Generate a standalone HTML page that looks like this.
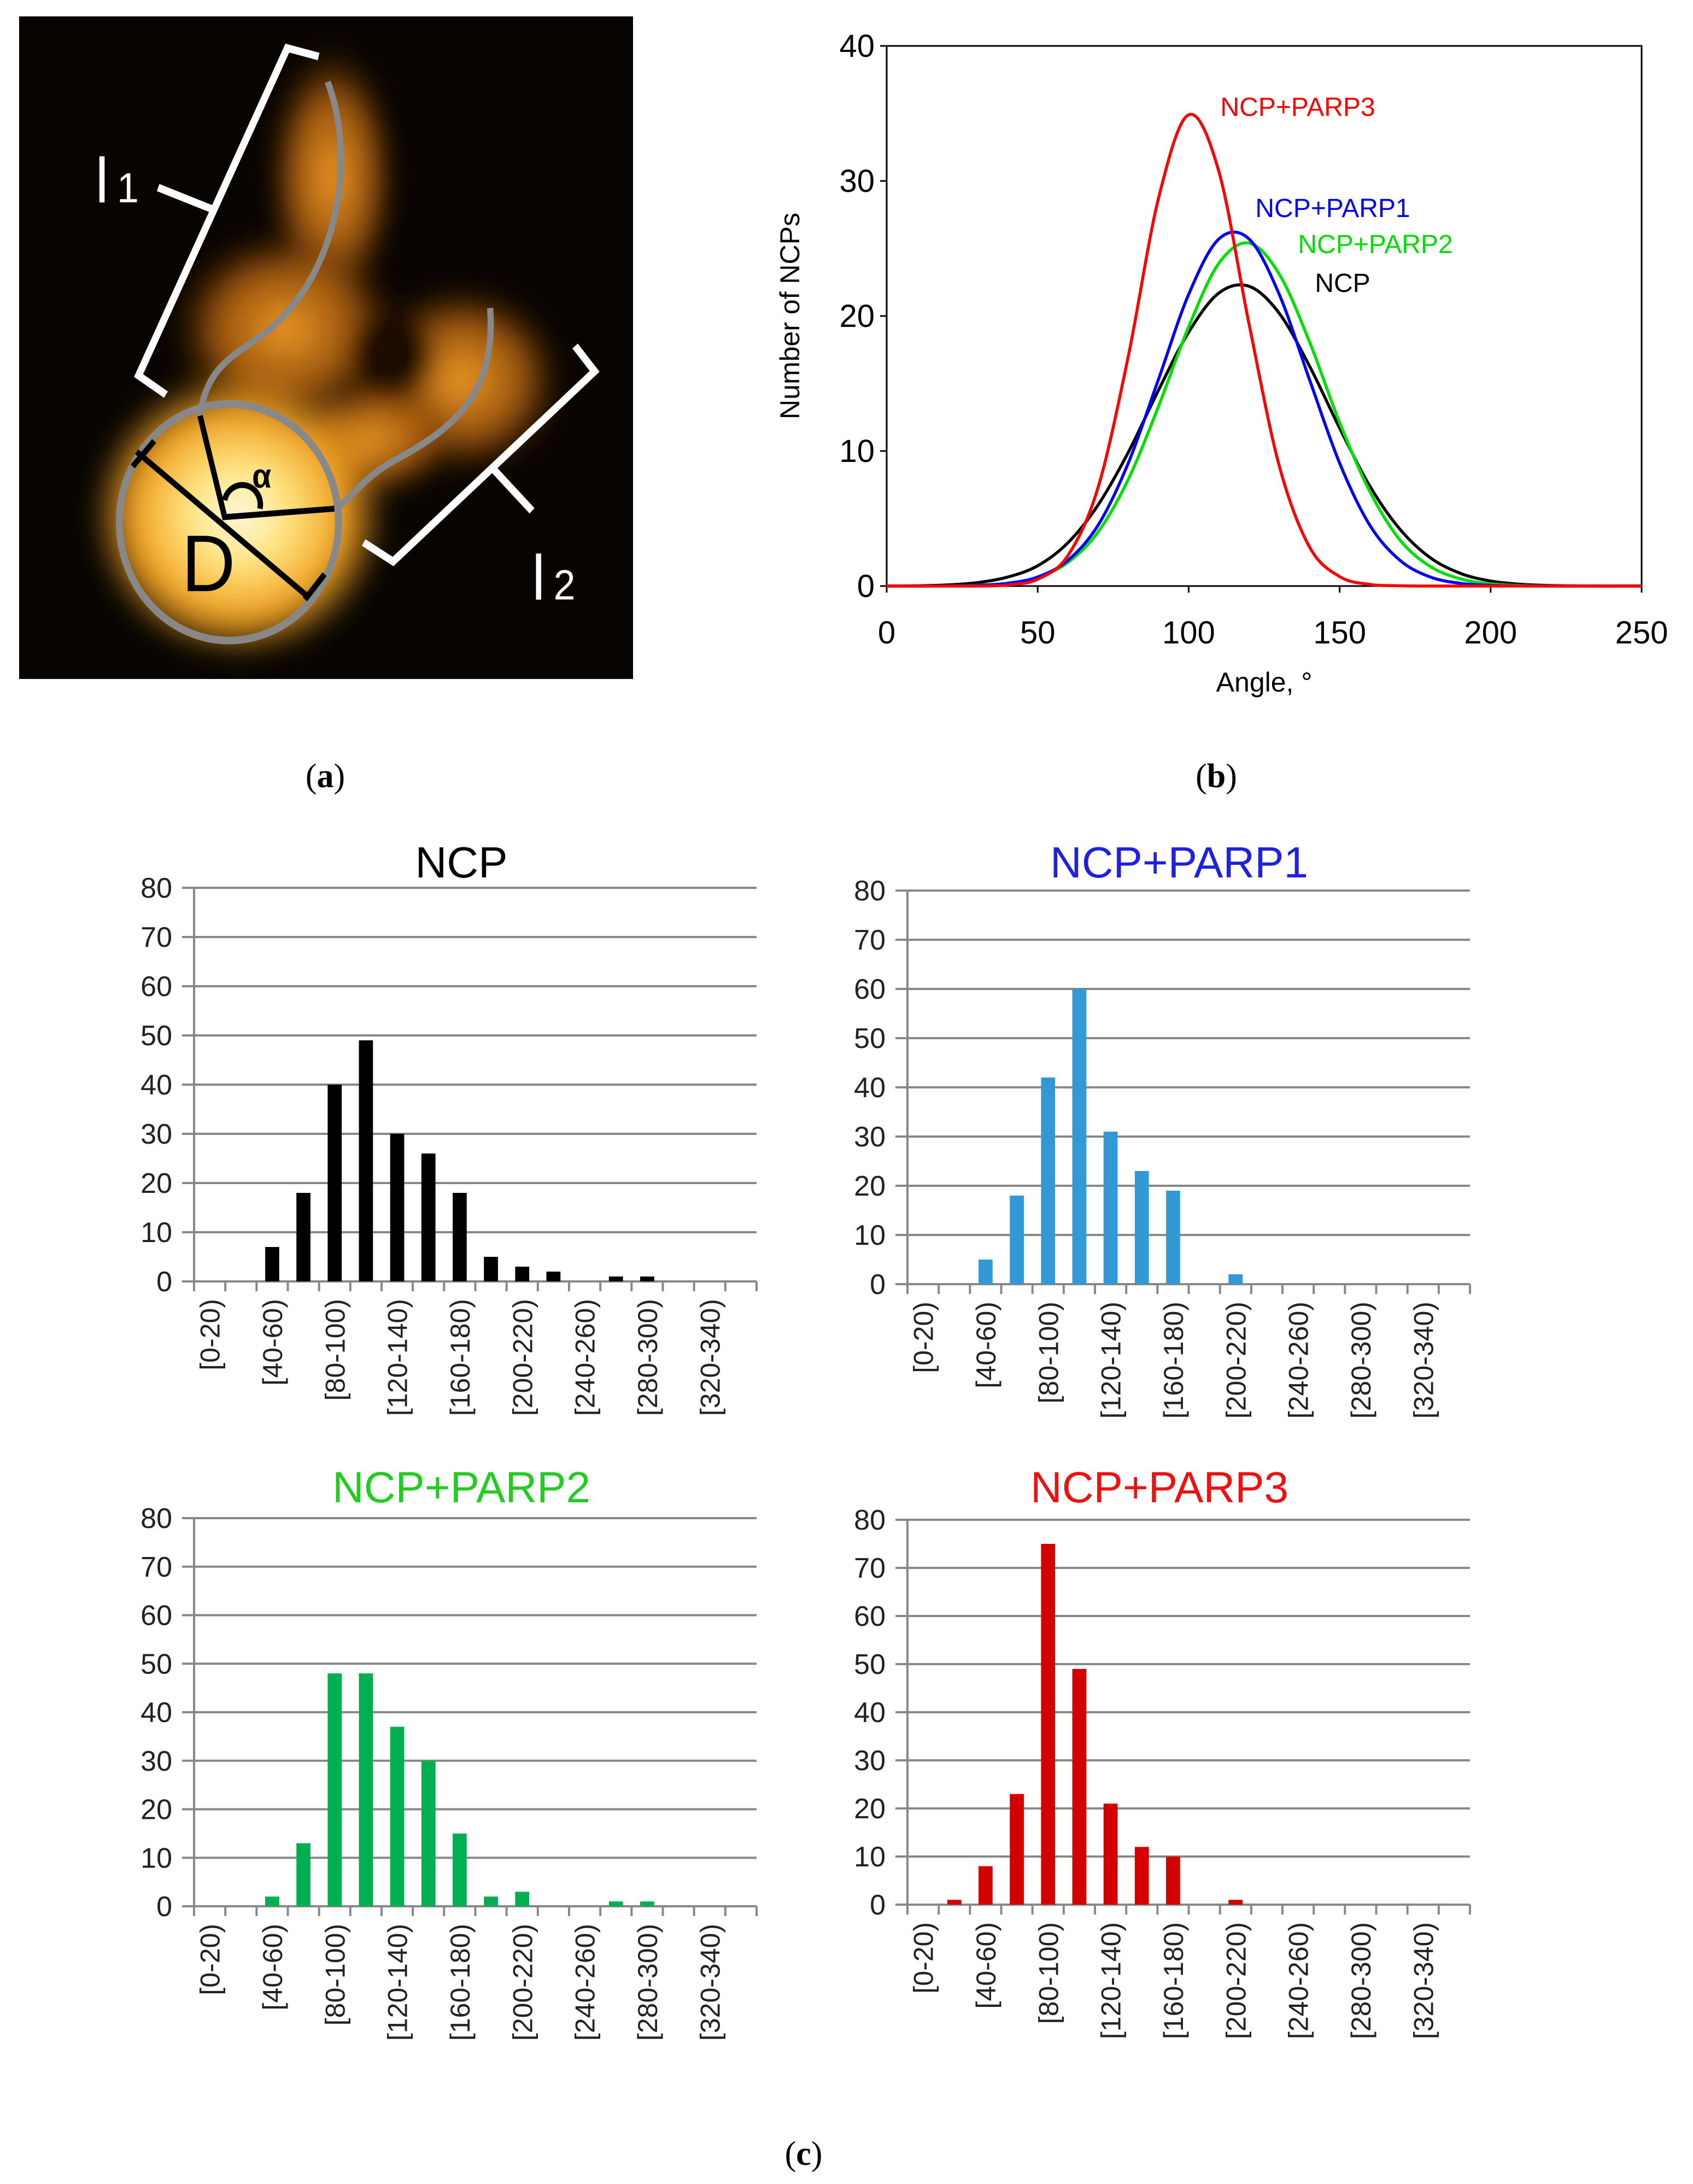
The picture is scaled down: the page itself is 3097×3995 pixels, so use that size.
<!DOCTYPE html>
<html><head><meta charset="utf-8"><style>
html,body{margin:0;padding:0;background:#fff}
svg{display:block}
text{font-family:"Liberation Sans",sans-serif}
</style></head><body>
<svg id="root" xmlns="http://www.w3.org/2000/svg" width="3097" height="3995" viewBox="0 0 3097 3995">
<rect width="3097" height="3995" fill="#fff"/>
<!-- Panel a -->
<svg x="35" y="30" width="1123" height="1212" viewBox="0 0 1568 1568" preserveAspectRatio="none">
<defs>
<radialGradient id="core" cx="0.5" cy="0.5" r="0.5"><stop offset="0" stop-color="#fffbe8"/><stop offset="0.35" stop-color="#ffe27a"/><stop offset="0.7" stop-color="#f0a020"/><stop offset="1" stop-color="#f0a020" stop-opacity="0"/></radialGradient>
<radialGradient id="arm" cx="0.5" cy="0.5" r="0.5"><stop offset="0" stop-color="#f09a25"/><stop offset="0.6" stop-color="#b0600f" stop-opacity="0.85"/><stop offset="1" stop-color="#3a1a00" stop-opacity="0"/></radialGradient>
<filter id="blur"><feGaussianBlur stdDeviation="30"/></filter>
</defs>
<rect width="1568" height="1568" fill="#070402"/>
<g filter="url(#blur)">
<ellipse cx="800" cy="380" rx="170" ry="320" fill="url(#arm)"/>
<ellipse cx="680" cy="740" rx="300" ry="240" fill="url(#arm)"/>
<ellipse cx="1130" cy="860" rx="270" ry="230" fill="url(#arm)"/>
<ellipse cx="900" cy="1000" rx="220" ry="140" fill="url(#arm)"/>
<ellipse cx="950" cy="800" rx="110" ry="110" fill="#1a0a02"/>
<ellipse cx="560" cy="1180" rx="380" ry="340" fill="url(#core)"/>
</g>
<circle cx="536" cy="1197" r="280" fill="none" stroke="#888" stroke-width="18"/>
<path d="M788 155 C860 330 820 600 640 740 C560 800 480 820 462 945" fill="none" stroke="#888" stroke-width="16"/>
<path d="M1203 690 C1220 900 1100 980 960 1050 C880 1090 850 1140 815 1160" fill="none" stroke="#888" stroke-width="16"/>
<path d="M300 1030 L740 1375 M290 1065 L345 1005 M730 1380 L780 1320 M462 945 L525 1185 L805 1165 M525 1145 A40 40 0 0 1 615 1165" fill="none" stroke="#000" stroke-width="14"/>
<text x="595" y="1115" font-size="80" font-weight="bold" fill="#000">α</text>
<text x="415" y="1360" font-size="190" fill="#000">D</text>
<path d="M765 95 L685 75 L305 850 L375 895 M490 455 L355 405" fill="none" stroke="#fff" stroke-width="18"/>
<path d="M1420 780 L1470 840 L955 1290 L880 1245 M1210 1070 L1310 1170" fill="none" stroke="#fff" stroke-width="18"/>
<text x="195" y="440" font-size="150" fill="#fff">l</text><text x="250" y="440" font-size="100" fill="#fff">1</text>
<text x="1310" y="1380" font-size="150" fill="#fff">l</text><text x="1365" y="1380" font-size="100" fill="#fff">2</text>
</svg>
<text x="595" y="1440" font-size="62" text-anchor="middle" style="font-family:'Liberation Serif',serif">(<tspan font-weight="bold">a</tspan>)</text>
<text x="2225" y="1440" font-size="62" text-anchor="middle" style="font-family:'Liberation Serif',serif">(<tspan font-weight="bold">b</tspan>)</text>
<text x="1470" y="3960" font-size="62" text-anchor="middle" style="font-family:'Liberation Serif',serif">(<tspan font-weight="bold">c</tspan>)</text>
<g id="lineChart"></g>
<g id="hists"></g>
</svg>
<script>
const NS="http://www.w3.org/2000/svg";
// ---- Panel b data ----
const angleX=[0,10,20,30,40,50,60,70,80,90,100,110,120,130,140,150,160,170,180,190,200,210,220,230,240,250];
const ncpCurve=[0,0.02,0.08,0.25,0.66,1.5,3.2,6.0,9.9,14.5,18.8,21.7,22.2,20.2,16.3,11.7,7.4,4.2,2.1,0.94,0.37,0.13,0.04,0.01,0,0];
const parp1Curve=[0,0,0.01,0.05,0.2,0.67,1.9,4.5,9.1,15.3,21.6,25.7,25.7,21.6,15.3,9.1,4.5,1.9,0.67,0.2,0.05,0.01,0,0,0,0];
const parp2Curve=[0,0,0.01,0.06,0.21,0.65,1.75,4.0,7.9,13.3,19.2,23.9,25.4,23.1,18.1,12.1,7.0,3.4,1.45,0.53,0.16,0.04,0.01,0,0,0];
const parp3Curve=[0,0,0,0,0.08,0.5,2.25,7.3,17.0,28.7,34.9,30.7,19.4,8.9,2.9,0.7,0.12,0.02,0,0,0,0,0,0,0,0];
const xTicksB=[0,50,100,150,200,250];
const yTicksB=[0,10,20,30,40];
// ---- Panel c data ----
const binLabels=["[0-20)","[20-40)","[40-60)","[60-80)","[80-100)","[100-120)","[120-140)","[140-160)","[160-180)","[180-200)","[200-220)","[220-240)","[240-260)","[260-280)","[280-300)","[300-320)","[320-340)","[340-360)"];
const ncpCounts=[0,0,7,18,40,49,30,26,18,5,3,2,0,1,1,0,0,0];
const parp1Counts=[0,0,5,18,42,60,31,23,19,0,2,0,0,0,0,0,0,0];
const parp2Counts=[0,0,2,13,48,48,37,30,15,2,3,0,0,1,1,0,0,0];
const parp3Counts=[0,1,8,23,75,49,21,12,10,0,1,0,0,0,0,0,0,0];
const yTicksC=[0,10,20,30,40,50,60,70,80];

function mk(tag,attrs,parent){const e=document.createElementNS(NS,tag);for(const k in attrs)e.setAttribute(k,attrs[k]);parent.appendChild(e);return e;}

// Panel b
(function(){
  const g=document.getElementById('lineChart');
  const L=1622,R=3003,T=84,B=1072;
  const sx=v=>L+(v-0)/(250-0)*(R-L);
  const sy=v=>B-(v-0)/(40-0)*(B-T);
  const frame=mk('rect',{x:L,y:T,width:R-L,height:B-T,fill:'none',stroke:'#000','stroke-width':3},g);
  
  
  yTicksB.forEach(v=>{
    const t=mk('text',{x:L-22,y:sy(v)+20,'font-size':58,'text-anchor':'end',fill:'#000'},g);t.textContent=v;
    
    
    mk('line',{x1:L-12,x2:L,y1:sy(v),y2:sy(v),stroke:'#000','stroke-width':3},g);
  });
  xTicksB.forEach(v=>{
    const t=mk('text',{x:sx(v),y:B+105,'font-size':58,'text-anchor':'middle',fill:'#000'},g);t.textContent=v;
    
    
    mk('line',{x1:sx(v),x2:sx(v),y1:B,y2:B+12,stroke:'#000','stroke-width':3},g);
  });
  const xt=mk('text',{x:(L+R)/2,y:1265,'font-size':50,'text-anchor':'middle',fill:'#000'},g);xt.textContent='Angle, °';
  
  
  const yt=mk('text',{x:0,y:0,'font-size':50,'text-anchor':'middle',fill:'#000',transform:`translate(1462,578) rotate(-90)`},g);yt.textContent='Number of NCPs';
  
  
  function spline(ys){
    const p=angleX.map((x,i)=>[sx(x),sy(ys[i])]);
    let d=`M${p[0][0]},${p[0][1]}`;
    for(let i=0;i<p.length-1;i++){
      const p0=p[Math.max(0,i-1)],p1=p[i],p2=p[i+1],p3=p[Math.min(p.length-1,i+2)];
      const c1=[p1[0]+(p2[0]-p0[0])/6,p1[1]+(p2[1]-p0[1])/6],c2=[p2[0]-(p3[0]-p1[0])/6,p2[1]-(p3[1]-p1[1])/6];
      d+=` C${c1[0]},${c1[1]} ${c2[0]},${c2[1]} ${p2[0]},${p2[1]}`;
    }
    return d;
  }
  const series=[[ncpCurve,'#000','ncp-curve'],[parp2Curve,'#00e000','parp2-curve'],[parp1Curve,'#0000ff','parp1-curve'],[parp3Curve,'#ff0000','parp3-curve']];
  series.forEach(s=>{
    const p=mk('path',{d:spline(s[0]),fill:'none',stroke:s[1],'stroke-width':5.5},g);
    
    
  });
  const labs=[['NCP+PARP3','#ff0000',2374,212,'parp3-label'],['NCP+PARP1','#0000ff',2438,397,'parp1-label'],['NCP+PARP2','#00dd00',2516,463,'parp2-label'],['NCP','#000',2456,534,'ncp-label']];
  labs.forEach(l=>{
    const t=mk('text',{x:l[2],y:l[3],'font-size':48,'text-anchor':'middle',fill:l[1]},g);t.textContent=l[0];
    
    
  });
})();

// Panel c
function hist(cfg){
  const root=document.getElementById('hists');
  const g=mk('g',{},root);
  
  
  const {L,R,T,B}=cfg;
  const n=binLabels.length,bw=(R-L)/n;
  const sy=v=>B-v/80*(B-T);
  const cx=i=>L+(i+0.5)*bw;
  yTicksC.forEach(v=>{
    const ln=mk('line',{x1:L-22,x2:R,y1:sy(v),y2:sy(v),stroke:'#888','stroke-width':4},g);
    
    
    const t=mk('text',{x:L-40,y:sy(v)+18,'font-size':52,'text-anchor':'end',fill:'#222'},g);t.textContent=v;
    
    
  });
  mk('line',{x1:L,x2:L,y1:T,y2:B,stroke:'#888','stroke-width':4},g);
  for(let i=0;i<=n;i++) mk('line',{x1:L+i*bw,x2:L+i*bw,y1:B,y2:B+18,stroke:'#888','stroke-width':4},g);
  cfg.values.forEach((v,i)=>{
    if(v<=0)return;
    const w=bw*0.45;
    const r=mk('rect',{x:cx(i)-w/2,y:sy(v),width:w,height:B-sy(v),fill:cfg.color},g);
    
    
  });
  binLabels.forEach((lb,i)=>{
    if(i%2)return;
    const t=mk('text',{x:0,y:0,'font-size':50,'text-anchor':'end',fill:'#222',transform:`translate(${cx(i)+18},${B+32}) rotate(-90)`},g);t.textContent=lb;
    
    
  });
  const tt=mk('text',{x:cfg.tx,y:cfg.ty,'font-size':80,'text-anchor':'middle',fill:cfg.tcolor},g);tt.textContent=cfg.title;
  
  
}
hist({name:'ncp-histogram',L:355,R:1384,T:1624,B:2344,values:ncpCounts,color:'#000',title:'NCP',tcolor:'#000',tx:844,ty:1605});
hist({name:'parp1-histogram',L:1660,R:2689,T:1629,B:2349,values:parp1Counts,color:'#3399d6',title:'NCP+PARP1',tcolor:'#2020e0',tx:2157,ty:1605});
hist({name:'parp2-histogram',L:355,R:1384,T:2777,B:3487,values:parp2Counts,color:'#00b050',title:'NCP+PARP2',tcolor:'#22cc22',tx:844,ty:2748});
hist({name:'parp3-histogram',L:1660,R:2689,T:2780,B:3484,values:parp3Counts,color:'#d40000',title:'NCP+PARP3',tcolor:'#ee1111',tx:2121,ty:2748});
</script>
</body></html>
